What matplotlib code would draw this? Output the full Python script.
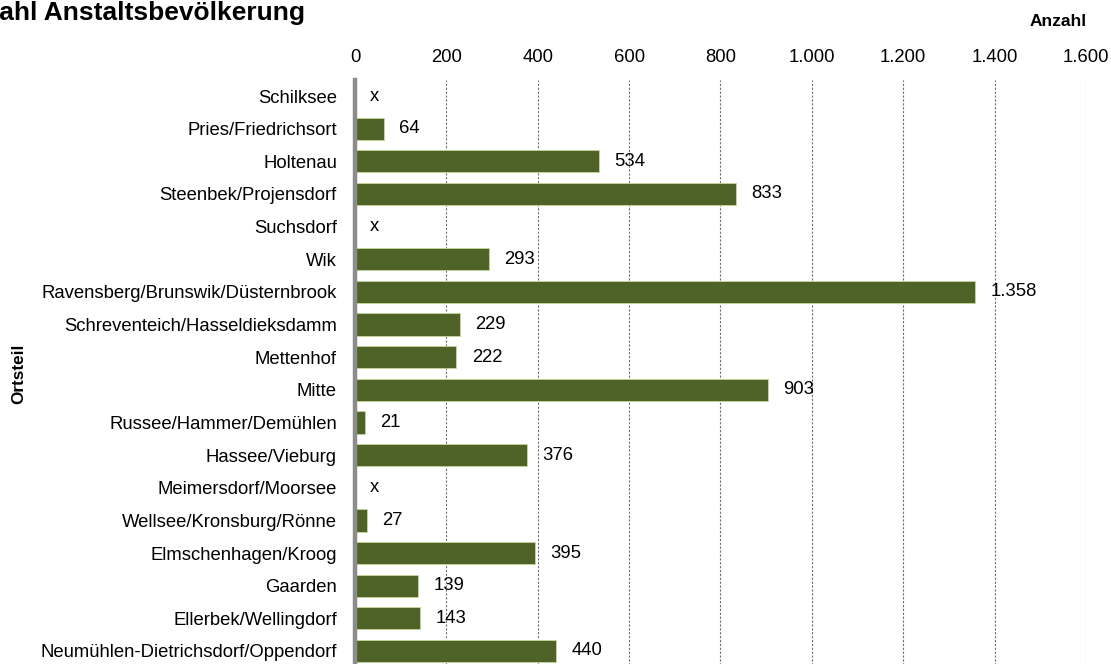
import matplotlib.pyplot as plt
from matplotlib.ticker import FuncFormatter

plt.rcParams['font.family'] = ['Liberation Sans', 'DejaVu Sans']

ortsteile = ['Schilksee', 'Pries/Friedrichsort', 'Holtenau', 'Steenbek/Projensdorf',
             'Suchsdorf', 'Wik', 'Ravensberg/Brunswik/Düsternbrook',
             'Schreventeich/Hasseldieksdamm', 'Mettenhof', 'Mitte',
             'Russee/Hammer/Demühlen', 'Hassee/Vieburg', 'Meimersdorf/Moorsee',
             'Wellsee/Kronsburg/Rönne', 'Elmschenhagen/Kroog', 'Gaarden',
             'Ellerbek/Wellingdorf', 'Neumühlen-Dietrichsdorf/Oppendorf']
# None = Wert geheim ("x")
anzahl = [None, 64, 534, 833, None, 293, 1358, 229, 222, 903, 21, 376, None, 27,
          395, 139, 143, 440]
xticks = [0, 200, 400, 600, 800, 1000, 1200, 1400, 1600]


def fmt_de(v, pos=None):
    return f'{int(v):,}'.replace(',', '.')


fig = plt.figure(figsize=(11.11, 6.64), dpi=100)
ax = fig.add_axes([0.3195, -0.005, 0.658, 0.885])

y = list(range(len(ortsteile)))
werte = [0 if v is None else v for v in anzahl]
ax.barh(y, werte, height=0.68, color='#4f6228', edgecolor='#c4d79b',
        linewidth=0.6, zorder=3)

for yi, v in zip(y, anzahl):
    txt = 'x' if v is None else fmt_de(v)
    ax.annotate(txt, xy=(0 if v is None else v, yi), xytext=(11, 0),
                textcoords='offset points', va='center', ha='left',
                fontsize=13.3, color='black')

ax.set_xlim(0, 1600)
ax.set_ylim(len(ortsteile) - 0.5, -0.5)
ax.set_xticks(xticks)
ax.xaxis.set_major_formatter(FuncFormatter(fmt_de))
ax.xaxis.tick_top()
ax.tick_params(axis='x', length=0, pad=10, labelsize=13.3)
ax.set_yticks(y)
ax.set_yticklabels(ortsteile)
ax.tick_params(axis='y', length=0, pad=13, labelsize=13.3)

ax.grid(axis='x', linestyle=(0, (2, 1.5)), color='#6e6e6e', linewidth=0.8, zorder=0)
for s in ['top', 'right', 'bottom']:
    ax.spines[s].set_visible(False)
ax.spines['left'].set_color('#8c8c8c')
ax.spines['left'].set_linewidth(3.2)
ax.spines['left'].set_zorder(4)

# Titel ist im Original links abgeschnitten: "Anz" liegt ausserhalb des Bildes
title_kw = dict(fontsize=19, fontweight='bold')
renderer = fig.canvas.get_renderer()
probe = fig.text(0, 0, 'Anz', **title_kw)
w_anz = probe.get_window_extent(renderer).width
probe.remove()
fig.text((-1 - w_anz) / 1111, 1 - 1 / 664, 'Anzahl Anstaltsbevölkerung',
         ha='left', va='top', **title_kw)
fig.text(1087 / 1111, 1 - 22 / 664, 'Anzahl', ha='right', va='center',
         fontsize=12.5, fontweight='bold')
fig.text(19 / 1111, 1 - 374 / 664, 'Ortsteil', ha='center', va='center',
         rotation=90, fontsize=12.3, fontweight='bold')

fig.savefig('out.png', dpi=100)
